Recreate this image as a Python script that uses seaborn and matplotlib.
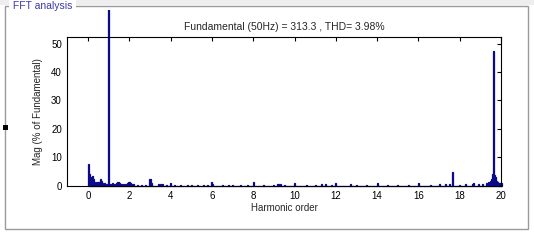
import matplotlib
matplotlib.use("Agg")
import matplotlib.pyplot as plt
import seaborn as sns
import pandas as pd
from matplotlib.patches import Rectangle
from matplotlib.transforms import Bbox, TransformedBbox

# ---- data ----
harmonic = [0.0, 0.05, 0.1, 0.15, 0.2, 0.25, 0.3, 0.35, 0.45, 0.5, 0.55, 0.6, 0.65,
            0.7, 0.8, 0.9, 1.0, 1.1, 1.2, 1.3, 1.4, 1.45, 1.5, 1.6, 1.7, 1.8,
            1.9, 1.95, 2.0, 2.05, 2.1, 2.2, 2.4, 2.6, 2.8, 3.0, 3.05, 3.4, 3.5,
            3.6, 3.8, 4.0, 4.2, 4.5, 4.8, 5.0, 5.3, 5.6, 5.8, 6.0, 6.05, 6.5,
            6.8, 7.0, 7.4, 7.7, 8.0, 8.5, 9.0, 9.2, 9.3, 9.5, 10.0, 10.6, 11.0,
            11.3, 11.5, 11.8, 12.0, 12.7, 13.0, 13.5, 14.0, 14.5, 15.0, 15.5,
            16.0, 16.6, 17.0, 17.3, 17.5, 17.65, 18.0, 18.3, 18.6, 18.65, 18.9,
            19.1, 19.3, 19.4, 19.5, 19.55, 19.6, 19.65, 19.7, 19.75, 19.8, 19.85,
            19.9, 19.95, 20.0]
magnitude = [7.7, 4.2, 3.0, 2.0, 3.5, 2.4, 1.0, 1.4, 1.2, 1.4, 1.3, 2.4, 1.5,
             1.0, 0.8, 0.6, 100.0, 0.6, 0.9, 0.7, 1.0, 1.2, 0.8, 0.7, 0.5, 0.6,
             1.0, 1.3, 1.2, 0.8, 0.7, 0.5, 0.4, 0.4, 0.3, 2.4, 0.8, 0.6, 0.5,
             0.5, 0.4, 0.8, 0.4, 0.4, 0.3, 0.4, 0.4, 0.4, 0.4, 1.2, 0.6, 0.3,
             0.3, 0.4, 0.4, 0.3, 1.2, 0.3, 0.4, 0.6, 0.6, 0.4, 0.8, 0.4, 0.4,
             0.5, 0.5, 0.4, 0.8, 0.5, 0.4, 0.4, 0.8, 0.4, 0.4, 0.4, 0.8, 0.4,
             0.5, 0.6, 0.6, 4.9, 0.4, 0.5, 0.6, 1.0, 0.5, 0.6, 1.0, 1.2, 1.8,
             2.5, 4.0, 47.3, 3.8, 3.0, 1.8, 1.2, 1.0, 0.8, 1.0]
x_ticks = [0, 2, 4, 6, 8, 10, 12, 14, 16, 18, 20]
y_ticks = [0, 10, 20, 30, 40, 50]
title_text = "Fundamental (50Hz) = 313.3 , THD= 3.98%"
panel_title = "FFT analysis"

df = pd.DataFrame({"harmonic": harmonic, "magnitude": magnitude})

W, H = 534, 246
sns.set_style("white")
plt.rcParams["font.family"] = ["Liberation Sans", "DejaVu Sans"]
fig = plt.figure(figsize=(W / 100, H / 100), dpi=100)
fig.patch.set_facecolor("white")

def fx(px):
    return px / W

def fy(py):
    return 1 - py / H

# panel decorations
fig.patches.append(Rectangle((0, fy(5)), 1, 5 / H, transform=fig.transFigure,
                             facecolor="#eeeeee", edgecolor="none", zorder=0))
fig.patches.append(Rectangle((fx(5.5), fy(229)), (528 - 5.5) / W, (229 - 6) / H,
                             transform=fig.transFigure, facecolor="none",
                             edgecolor="#9a9a9a", linewidth=1.0, zorder=1))
fig.text(fx(10), fy(6), " " + panel_title + " ", color="#3a3aa8", fontsize=7.5,
         va="center", ha="left",
         bbox=dict(facecolor="white", edgecolor="none", pad=0.5))
fig.patches.append(Rectangle((fx(3), fy(130)), 5 / W, 5 / H, transform=fig.transFigure,
                             facecolor="black", edgecolor="none", zorder=3))

ax = fig.add_axes([fx(67.4), fy(185.7), (501 - 67.4) / W, (185.7 - 37.3) / H])
sns.histplot(data=df, x="harmonic", weights="magnitude", binwidth=0.05,
             binrange=(-0.025, 20.025), stat="count", element="bars",
             color="#0a0a8a", edgecolor="#0a0a8a", linewidth=0.9, alpha=1.0, ax=ax)

ax.set_xlim(-1, 20)
ax.set_ylim(0, 52.25)
ax.set_xticks(x_ticks)
ax.set_yticks(y_ticks)
ax.tick_params(direction="in", length=3, width=0.8, labelsize=7, top=True, right=True,
               colors="black", pad=4)
for s in ax.spines.values():
    s.set_color("black")
    s.set_linewidth(0.8)
ax.set_xlabel("Harmonic order", fontsize=7, labelpad=1)
ax.set_ylabel("Mag (% of Fundamental)", fontsize=7, labelpad=6)
ax.set_title(title_text, fontsize=7.5, pad=5)

clip = TransformedBbox(Bbox.from_extents(0, 0, 1, fy(10)), fig.transFigure)
for p in ax.patches:
    p.set_clip_box(clip)

fig.savefig("out.png", dpi=100, facecolor="white")
